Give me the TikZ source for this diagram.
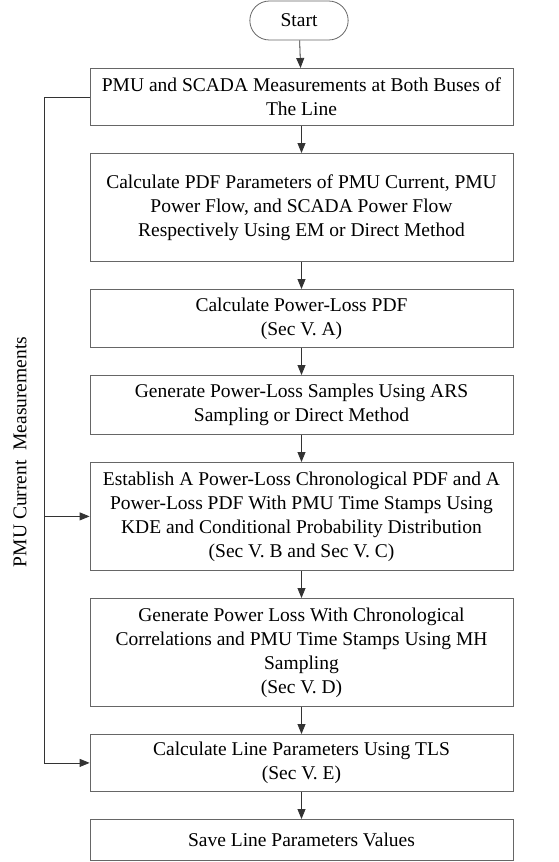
\documentclass[tikz,border=0pt]{standalone}
\usepackage{fontspec}
\setmainfont{Liberation Serif}
\usetikzlibrary{positioning, arrows.meta, shapes.misc, calc}

\begin{document}
\begin{tikzpicture}[node distance=27.2pt, font=\fontsize{19.5}{24}\selectfont]
		% 定义节点样式
			\tikzstyle{box} = [rectangle, draw=black!60, line width=0.8pt, minimum width=423pt, align=center, inner sep=0pt]
			\tikzstyle{term} = [rounded rectangle, draw=black!60, line width=0.8pt, minimum width=105pt, minimum height=39pt]
			\tikzstyle{arrow} = [draw=black!80, line width=0.8pt, -{Triangle[length=10pt,width=8pt]}]
			
			\useasboundingbox (0,0) rectangle (559pt,-862pt);
			
			%绘制节点
			\node [term] (start) at (299pt,-20.5pt) {Start};
			\node [box, minimum height=57pt, anchor=north] (meas) at (301.5pt,-68pt) {PMU and SCADA Measurements at Both Buses of\\ The Line};
			\node [box, minimum height=108pt, below=of meas] (pdfpar) {Calculate PDF Parameters of PMU Current, PMU\\ Power Flow, and SCADA Power Flow\\ Respectively Using EM or Direct Method};
			\node [box, minimum height=58pt, below=of pdfpar] (losspdf) {Calculate Power-Loss PDF\\ (Sec V. A)};
			\node [box, minimum height=59pt, below=of losspdf] (samples) {Generate Power-Loss Samples Using ARS\\ Sampling or Direct Method};
			\node [box, minimum height=108pt, below=of samples] (chrono) {Establish A Power-Loss Chronological PDF and A\\ Power-Loss PDF With PMU Time Stamps Using\\ KDE and Conditional Probability Distribution\\ (Sec V. B and Sec V. C)};
			\node [box, minimum height=108pt, below=of chrono] (mh) {Generate Power Loss With Chronological\\ Correlations and PMU Time Stamps Using MH\\ Sampling\\ (Sec V. D)};
			\node [box, minimum height=57pt, below=of mh] (tls) {Calculate Line Parameters Using TLS\\ (Sec V. E)};
			\node [box, minimum height=41pt, below=of tls] (save) {Save Line Parameters Values};
			
			\coordinate (ltop) at ($(meas.west)+(-45pt,0)$);
			\coordinate (lbot) at (ltop|-tls.west);
			\node [rotate=90] (pmucur) at (20pt,-452pt) {PMU Current\ \ Measurements};
			
			\draw[arrow] (start) -- (meas);
			\draw[arrow] (meas) -- (pdfpar);
			\draw[arrow] (pdfpar) -- (losspdf);
			\draw[arrow] (losspdf) -- (samples);
			\draw[arrow] (samples) -- (chrono);
			\draw[arrow] (chrono) -- (mh);
			\draw[arrow] (mh) -- (tls);
			\draw[arrow] (tls) -- (save);
			
			\draw[arrow] (meas.west) -- (ltop) -- (lbot) -- (tls.west);
			\draw[arrow] (ltop|-chrono.west) -- (chrono.west);
		\end{tikzpicture}
\end{document}
